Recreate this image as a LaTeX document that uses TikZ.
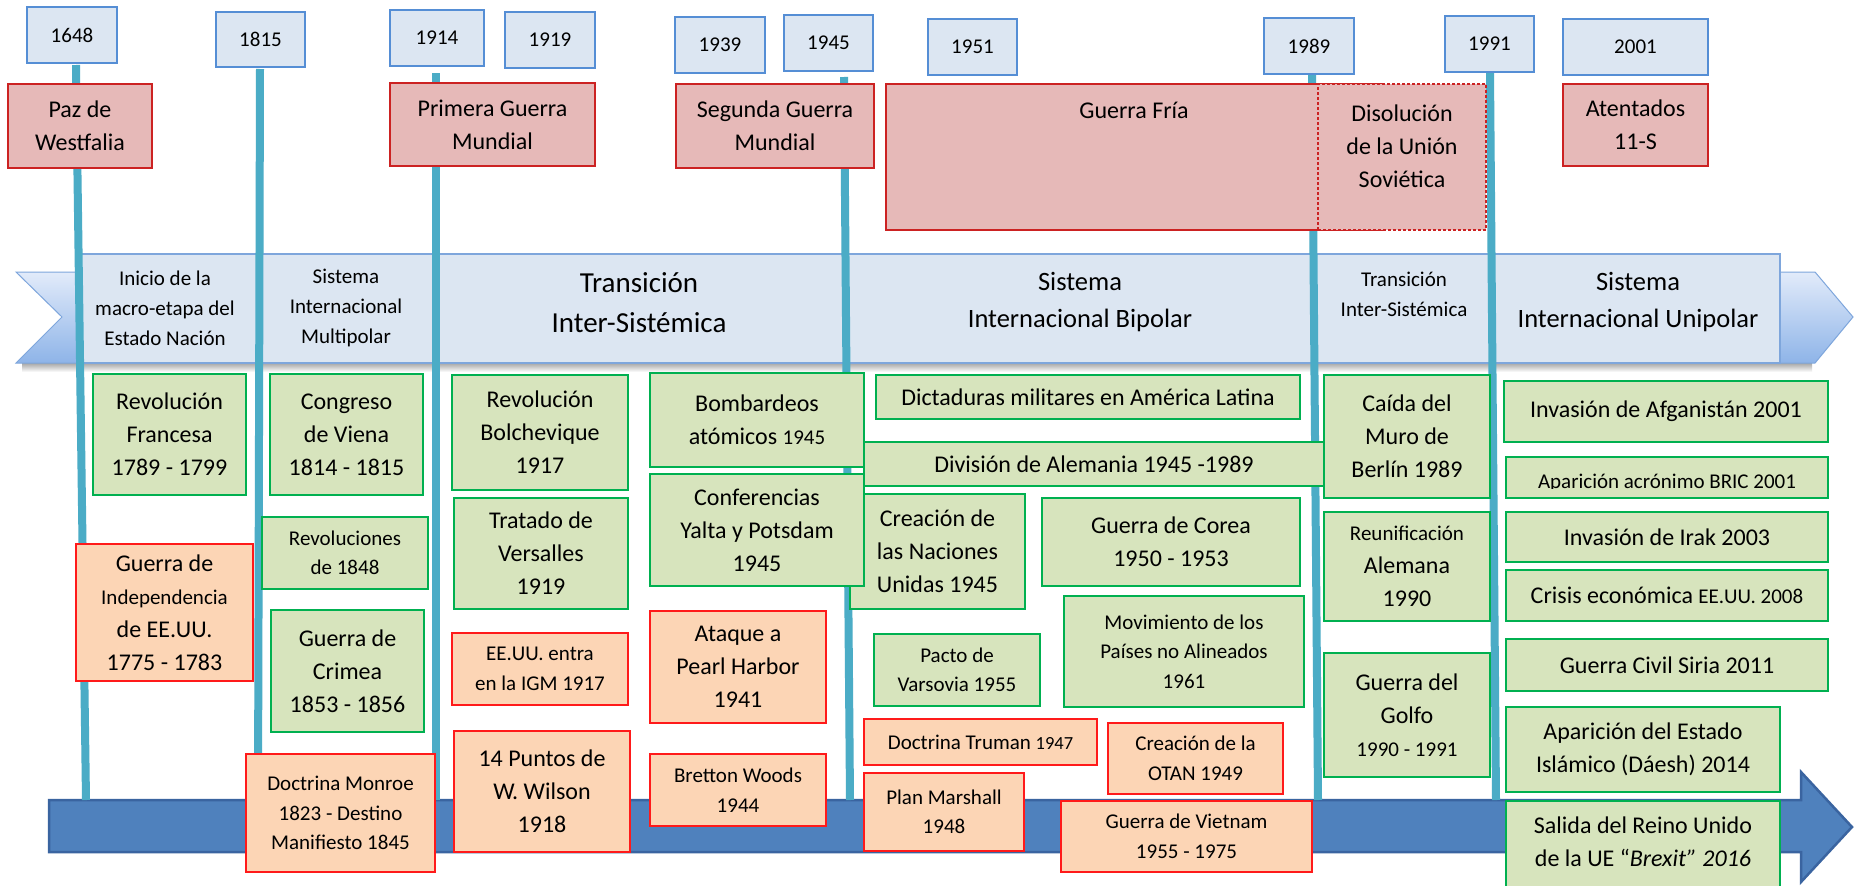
\documentclass[tikz,border=0pt]{standalone}
\usepackage{fontspec}
\setmainfont{Carlito}
\definecolor{yrF}{HTML}{DCE6F2}
\definecolor{yrB}{HTML}{558ED5}
\definecolor{evF}{HTML}{E6B9B8}
\definecolor{evB}{HTML}{CC2222}
\definecolor{grF}{HTML}{D7E4BD}
\definecolor{grB}{HTML}{00B050}
\definecolor{orF}{HTML}{FCD5B5}
\definecolor{orB}{HTML}{FF1A1A}
\definecolor{lnC}{HTML}{4BACC6}
\definecolor{bnF}{HTML}{DCE6F2}
\definecolor{bnB}{HTML}{7EA6DC}
\definecolor{arF}{HTML}{4F81BD}
\definecolor{arB}{HTML}{3A64A0}
\definecolor{chT}{HTML}{E2EBFA}
\definecolor{chB}{HTML}{8EB4E8}
\newcommand\Lg{\fontsize{24}{33}\selectfont}
\newcommand\Md{\fontsize{21}{29.5}\selectfont}
\newcommand\Sm{\fontsize{18.5}{26}\selectfont}
\newcommand\bx[7]{\pgfmathsetmacro\bxw{#5-#3}\pgfmathsetmacro\bxh{#6-#4}%
  \node[#2,minimum width=\bxw pt,minimum height=\bxh pt] (#1) at ({(#3+#5)/2},{(#4+#6)/2}) {#7};}
\begin{document}
\begin{tikzpicture}[x=1pt,y=-1pt,
  box/.style={inner sep=0pt,outer sep=0pt,align=center,line width=1.6pt},
  ybox/.style={box,draw=yrB,fill=yrF,font=\Md},
  rbox/.style={box,draw=evB,fill=evF,font=\Lg},
  gbox/.style={box,draw=grB,fill=grF,font=\Lg},
  obox/.style={box,draw=orB,fill=orF,font=\Lg},
  segbox/.style={box,draw=bnB,fill=bnF,line width=1.2pt},
  btext/.style={align=center,inner sep=0pt},
  ttext/.style={align=center,inner sep=0pt,font=\Lg},
  vline/.style={draw=lnC,line width=8pt}]
\useasboundingbox (0,0) rectangle (1855,886);
\fill[white] (0,0) rectangle (1855,886);
% banner
\shade[top color=black!35,bottom color=white] (22,363) rectangle (1812,372);
\shade[top color=chT,bottom color=chB,draw=bnB,line width=1pt]
  (16,272) -- (1815,272) -- (1853,317) -- (1815,363) -- (16,363) -- (62,317) -- cycle;
\bx{s1}{segbox}{79}{254}{259}{363}{}
\bx{s2}{segbox}{259}{254}{436}{363}{}
\bx{s3}{segbox}{436}{254}{845}{363}{}
\bx{s4}{segbox}{845}{254}{1313}{363}{}
\bx{s5}{segbox}{1313}{254}{1491}{363}{}
\bx{s6}{segbox}{1491}{254}{1780}{363}{}
\node[btext,font=\fontsize{21}{30}\selectfont] (s1t) at (165,308) {Inicio de la\\macro-etapa del\\Estado Nación};
\node[btext,font=\fontsize{21}{30}\selectfont] (s2t) at (346,308) {Sistema\\Internacional\\Multipolar};
\node[btext,font=\fontsize{29}{40}\selectfont] (s3t) at (639,303) {Transición\\Inter-Sistémica};
\node[btext,font=\fontsize{26.5}{37}\selectfont] (s4t) at (1080,302) {Sistema\\Internacional Bipolar};
\node[btext,font=\fontsize{21}{30}\selectfont] (s5t) at (1404,294) {Transición\\Inter-Sistémica};
\node[btext,font=\fontsize{26.5}{37}\selectfont] (s6t) at (1638,302) {Sistema\\Internacional Unipolar};
% bottom arrow
\draw[fill=arF,draw=arB,line width=2.5pt] (49,800) -- (1801,800) -- (1801,772) -- (1852,827)
  -- (1801,882) -- (1801,852) -- (49,852) -- cycle;
% vertical lines
\coordinate (a1) at (76,65);   \coordinate (b1) at (86,800);
\coordinate (a2) at (260,69);  \coordinate (b2) at (258,800);
\coordinate (a3) at (436,73);  \coordinate (b3) at (436,800);
\coordinate (a4) at (844,77);  \coordinate (b4) at (850,800);
\coordinate (a5) at (1312,75); \coordinate (b5) at (1318,800);
\coordinate (a6) at (1490,73); \coordinate (b6) at (1496,800);
\draw[vline] (a1) -- (b1);
\draw[vline] (a2) -- (b2);
\draw[vline] (a3) -- (b3);
\draw[vline] (a4) -- (b4);
\draw[vline] (a5) -- (b5);
\draw[vline] (a6) -- (b6);
% year boxes
\bx{y1648}{ybox}{27}{7}{117}{63}{1648}
\bx{y1815}{ybox}{216}{12}{305}{67}{1815}
\bx{y1914}{ybox}{390}{10}{484}{66}{1914}
\bx{y1919}{ybox}{505}{12}{595}{68}{1919}
\bx{y1939}{ybox}{675}{17}{765}{73}{1939}
\bx{y1945}{ybox}{784}{15}{873}{71}{1945}
\bx{y1951}{ybox}{928}{19}{1017}{75}{1951}
\bx{y1989}{ybox}{1264}{18}{1354}{74}{1989}
\bx{y1991}{ybox}{1445}{16}{1534}{72}{1991}
\bx{y2001}{ybox}{1563}{19}{1708}{75}{2001}
% top events
\bx{paz}{rbox}{8}{84}{152}{168}{Paz de\\Westfalia}
\bx{pgm}{rbox}{390}{83}{595}{166}{Primera Guerra\\Mundial}
\bx{sgm}{rbox}{676}{84}{874}{168}{Segunda Guerra\\Mundial}
\bx{gf}{rbox}{886}{84}{1382}{230}{}
\node[ttext] (gft) at (1134,110) {Guerra Fría};
\bx{dis}{rbox,dash pattern=on 3pt off 2pt,line width=1.4pt}{1318}{84}{1486}{230}{}
\node[ttext] (dist) at (1402,146) {Disolución\\de la Unión\\Soviética};
\bx{ate}{rbox}{1563}{84}{1708}{166}{Atentados\\11-S}
% column 1-2
\bx{rf}{gbox}{93}{374}{246}{495}{Revolución\\Francesa\\1789 - 1799}
\bx{gi}{obox}{76}{544}{253}{681}{Guerra de\\{\Md Independencia}\\de EE.UU.\\1775 - 1783}
\bx{cv}{gbox}{270}{374}{423}{495}{Congreso\\de Viena\\1814 - 1815}
\bx{r48}{gbox,font=\Md}{262}{517}{428}{589}{Revoluciones\\de 1848}
\bx{gc}{gbox}{271}{610}{424}{732}{Guerra de\\Crimea\\1853 - 1856}
\bx{dm}{obox,font=\Md}{246}{754}{435}{872}{Doctrina Monroe\\1823 - Destino\\Manifiesto 1845}
% column 3
\bx{rb}{gbox}{452}{375}{628}{490}{Revolución\\Bolchevique\\1917}
\bx{tv}{gbox}{454}{498}{628}{609}{Tratado de\\Versalles\\1919}
\bx{ee}{obox,font=\Md}{452}{633}{628}{705}{EE.UU. entra\\en la IGM 1917}
\bx{pw}{obox}{454}{731}{630}{852}{14 Puntos de\\W. Wilson\\1918}
% column 4
\bx{ba}{gbox}{650}{373}{864}{467}{Bombardeos\\atómicos {\Md 1945}}
\bx{cnu}{gbox}{850}{494}{1025}{609}{Creación de\\las Naciones\\Unidas 1945}
\bx{cy}{gbox}{650}{474}{864}{586}{Conferencias\\Yalta y Potsdam\\1945}
\bx{ph}{obox}{650}{611}{826}{723}{Ataque a\\Pearl Harbor\\1941}
\bx{bw}{obox,font=\Md}{650}{754}{826}{826}{Bretton Woods\\1944}
% bipolar
\bx{dml}{gbox}{876}{375}{1300}{419}{Dictaduras militares en América Latina}
\bx{da}{gbox}{864}{442}{1324}{486}{División de Alemania 1945 -1989}
\bx{gco}{gbox}{1042}{498}{1300}{586}{Guerra de Corea\\1950 - 1953}
\bx{mna}{gbox,font=\Md}{1064}{596}{1304}{707}{Movimiento de los\\Países no Alineados\\1961}
\bx{pv}{gbox,font=\Md}{874}{634}{1040}{706}{Pacto de\\Varsovia 1955}
\bx{dt}{obox,font=\Md}{864}{719}{1097}{765}{Doctrina Truman {\Sm 1947}}
\bx{pm}{obox,font=\Md}{864}{773}{1024}{851}{Plan Marshall\\1948}
\bx{otan}{obox,font=\Md}{1108}{723}{1283}{794}{Creación de la\\OTAN 1949}
\bx{gv}{obox,font=\Md}{1061}{801}{1312}{872}{Guerra de Vietnam\\1955 - 1975}
% transition 1989-1991
\bx{cm}{gbox}{1324}{375}{1490}{498}{Caída del\\Muro de\\Berlín 1989}
\bx{ra}{gbox}{1324}{512}{1490}{621}{{\Md Reunificación}\\Alemana\\1990}
\bx{gg}{gbox}{1324}{653}{1490}{777}{Guerra del\\Golfo\\{\Md 1990 - 1991}}
% unipolar
\bx{ia}{gbox}{1504}{381}{1828}{442}{Invasión de Afganistán 2001}
\bx{bric}{gbox}{1506}{457}{1828}{498}{}
\begin{scope}
\clip (1506,457) rectangle (1828,488.5);
\node[font=\Md,inner sep=0pt,anchor=base] (brict) at (1667,488) {Aparición acrónimo BRIC 2001};
\end{scope}
\bx{ii}{gbox}{1506}{512}{1828}{562}{Invasión de Irak 2003}
\bx{ce}{gbox}{1506}{570}{1828}{621}{Crisis económica {\Md EE.UU. 2008}}
\bx{gcs}{gbox}{1506}{639}{1828}{691}{Guerra Civil Siria 2011}
\bx{aei}{gbox}{1506}{707}{1780}{792}{Aparición del Estado\\Islámico (Dáesh) 2014}
\bx{sru}{gbox}{1506}{801}{1780}{896}{}
\node[ttext] (srut) at (1643,842) {Salida del Reino Unido\\de la UE “\textit{Brexit” 2016}};
\end{tikzpicture}
\end{document}
